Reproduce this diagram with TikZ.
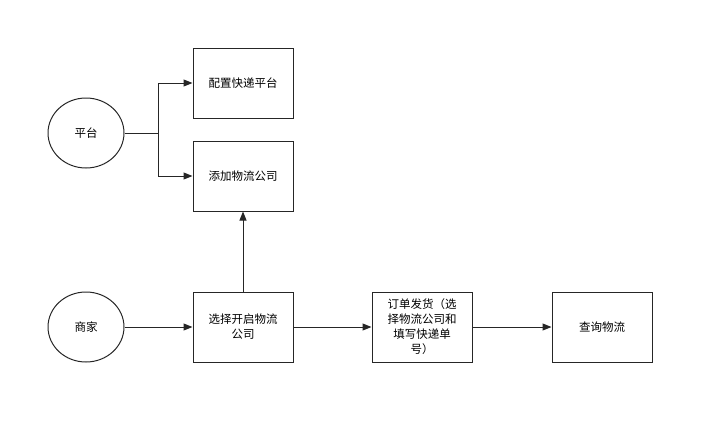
\documentclass[tikz,border=0pt]{standalone}
\usepackage{fontspec}
\setmainfont{Noto Sans CJK SC}
\usetikzlibrary{arrows.meta,positioning,shapes.geometric}
\tikzset{
  box/.style={draw=black!85,line width=1pt,minimum width=100pt,minimum height=70pt,align=center,inner sep=2pt},
  role/.style={draw=black!85,line width=1pt,ellipse,minimum width=76pt,minimum height=70pt},
  flow/.style={-{Triangle[length=9pt,width=7pt]},line width=1pt,draw=black!85}
}
\begin{document}
\begin{tikzpicture}[x=1pt,y=-1pt,font=\fontsize{11.5}{15}\selectfont]
  \useasboundingbox (0,0) rectangle (714,424);
  % roles
  \node[role] (pingtai) at (86,133) {平台};
  \node[role] (shangjia) at (86,327) {商家};
  % steps
  \node[box] (peizhi) at (243,83) {配置快递平台};
  \node[box] (tianjia) at (243,176) {添加物流公司};
  \node[box] (xuanze) at (243,327) {选择开启物流\\公司};
  \node[box] (fahuo) at (422,327) {订单发货（选\\择物流公司和\\填写快递单\\号）};
  \node[box] (chaxun) at (602,327) {查询物流};
  % connectors
  \coordinate (fork) at (158,133);
  \draw[flow] (pingtai) -- (fork) |- (peizhi);
  \draw[flow] (fork) |- (tianjia);
  \draw[flow] (shangjia) -- (xuanze);
  \draw[flow] (xuanze) -- (tianjia);
  \draw[flow] (xuanze) -- (fahuo);
  \draw[flow] (fahuo) -- (chaxun);
\end{tikzpicture}
\end{document}
